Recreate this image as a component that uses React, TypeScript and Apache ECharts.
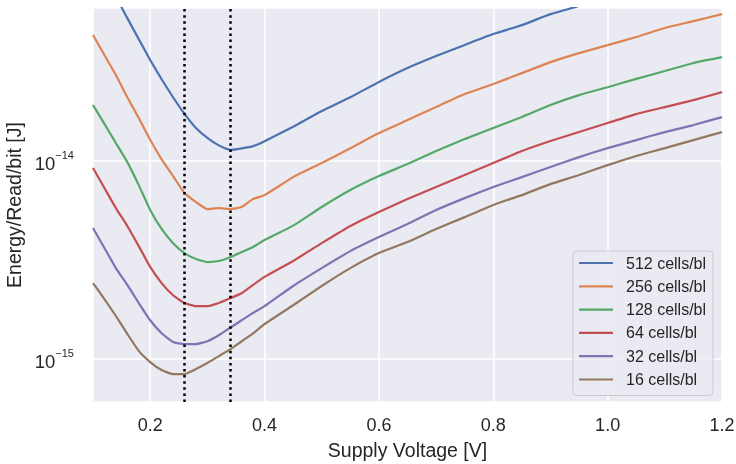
import { useEffect, useRef } from "react";
import * as echarts from "echarts";

// Supply voltage sweep [V]
const voltage = [
  0.1, 0.12, 0.14, 0.16, 0.18, 0.2, 0.22, 0.24, 0.26, 0.28, 0.3, 0.32, 0.34, 0.36, 0.38, 0.4,
  0.45, 0.5, 0.55, 0.6, 0.65, 0.7, 0.75, 0.8, 0.85, 0.9, 0.95, 1.0, 1.05, 1.1, 1.15, 1.2,
];

const seriesNames = [
  "512 cells/bl",
  "256 cells/bl",
  "128 cells/bl",
  "64 cells/bl",
  "32 cells/bl",
  "16 cells/bl",
];

// Energy per read per bit [J]
const e512 = [
  1.19e-13, 9.2e-14, 6.8e-14, 5.27e-14, 4.13e-14, 3.24e-14, 2.59e-14, 2.1e-14, 1.73e-14, 1.47e-14,
  1.31e-14, 1.2e-14, 1.14e-14, 1.16e-14, 1.19e-14, 1.26e-14, 1.49e-14, 1.79e-14, 2.1e-14, 2.51e-14,
  2.95e-14, 3.39e-14, 3.86e-14, 4.38e-14, 4.86e-14, 5.52e-14, 6.07e-14, 6.73e-14, 7.48e-14, 8.3e-14,
  9.1e-14, 1.0e-13,
];
const e256 = [
  4.33e-14, 3.43e-14, 2.72e-14, 2.1e-14, 1.65e-14, 1.28e-14, 1.02e-14, 8.4e-15, 6.89e-15, 6.21e-15,
  5.72e-15, 5.78e-15, 5.72e-15, 5.86e-15, 6.43e-15, 6.73e-15, 8.3e-15, 9.77e-15, 1.16e-14, 1.385e-14,
  1.61e-14, 1.874e-14, 2.18e-14, 2.45e-14, 2.78e-14, 3.16e-14, 3.51e-14, 3.85e-14, 4.23e-14, 4.7e-14,
  5.09e-14, 5.52e-14,
];
const e128 = [
  1.92e-14, 1.54e-14, 1.233e-14, 9.88e-15, 7.56e-15, 5.66e-15, 4.54e-15, 3.85e-15, 3.43e-15, 3.2e-15,
  3.09e-15, 3.13e-15, 3.27e-15, 3.47e-15, 3.68e-15, 3.99e-15, 4.72e-15, 5.86e-15, 7.14e-15, 8.4e-15,
  9.66e-15, 1.123e-14, 1.291e-14, 1.468e-14, 1.668e-14, 1.92e-14, 2.154e-14, 2.36e-14, 2.6e-14,
  2.85e-14, 3.13e-14, 3.35e-14,
];
const e64 = [
  9.22e-15, 7.31e-15, 5.79e-15, 4.7e-15, 3.72e-15, 2.92e-15, 2.42e-15, 2.1e-15, 1.92e-15, 1.85e-15,
  1.85e-15, 1.92e-15, 2.03e-15, 2.15e-15, 2.37e-15, 2.6e-15, 3.13e-15, 3.85e-15, 4.7e-15, 5.53e-15,
  6.43e-15, 7.39e-15, 8.5e-15, 9.77e-15, 1.123e-14, 1.262e-14, 1.401e-14, 1.556e-14, 1.727e-14,
  1.874e-14, 2.03e-14, 2.23e-14,
];
const e32 = [
  4.59e-15, 3.64e-15, 2.88e-15, 2.37e-15, 1.92e-15, 1.57e-15, 1.35e-15, 1.22e-15, 1.19e-15, 1.19e-15,
  1.23e-15, 1.32e-15, 1.44e-15, 1.57e-15, 1.71e-15, 1.85e-15, 2.34e-15, 2.88e-15, 3.51e-15, 4.13e-15,
  4.81e-15, 5.66e-15, 6.5e-15, 7.39e-15, 8.3e-15, 9.33e-15, 1.047e-14, 1.163e-14, 1.276e-14, 1.401e-14,
  1.52e-14, 1.668e-14,
];
const e16 = [
  2.42e-15, 2.01e-15, 1.65e-15, 1.34e-15, 1.1e-15, 9.66e-16, 8.8e-16, 8.4e-16, 8.4e-16, 8.9e-16,
  9.55e-16, 1.035e-15, 1.12e-15, 1.23e-15, 1.35e-15, 1.5e-15, 1.87e-15, 2.34e-15, 2.88e-15, 3.43e-15,
  3.9e-15, 4.54e-15, 5.21e-15, 6.0e-15, 6.73e-15, 7.65e-15, 8.5e-15, 9.54e-15, 1.06e-14, 1.163e-14,
  1.276e-14, 1.401e-14,
];

// Voltages marked with dotted reference lines
const markedVoltages = [0.26, 0.34];

const palette = ["#4C72B0", "#DD8452", "#55A868", "#C44E52", "#8172B3", "#937860"];
const textColor = "#262626";
const fontFamily = "'Liberation Sans', Arial, Helvetica, sans-serif";

export default function App() {
  const ref = useRef<HTMLDivElement>(null);

  useEffect(() => {
    if (!ref.current) return;
    const chart = echarts.init(ref.current, null, { renderer: "svg" });
    const curves = [e512, e256, e128, e64, e32, e16];

    chart.setOption({
      animation: false,
      color: palette,
      textStyle: { fontFamily },
      grid: {
        left: 93,
        right: 14,
        top: 8,
        bottom: 62,
        containLabel: false,
        outerBoundsMode: "none",
        show: true,
        backgroundColor: "#EAEAF2",
        borderWidth: 0,
      },
      legend: {
        data: seriesNames,
        orient: "vertical",
        left: 573,
        top: 251,
        icon: "rect",
        itemWidth: 34,
        itemHeight: 2.2,
        itemGap: 7.3,
        padding: [4, 7, 8, 6],
        backgroundColor: "rgba(234,234,242,0.8)",
        borderColor: "#cccccc",
        borderWidth: 1,
        borderRadius: 4,
        textStyle: {
          fontSize: 16,
          lineHeight: 16,
          color: textColor,
          padding: [0, 0, 0, 8],
        },
      },
      xAxis: {
        type: "value",
        min: 0.1,
        max: 1.2,
        splitNumber: 5,
        axisLine: { show: false },
        axisTick: { show: false },
        splitLine: { show: true, lineStyle: { color: "#ffffff", width: 1.6 } },
        axisLabel: {
          showMinLabel: false,
          fontSize: 18,
          color: textColor,
          margin: 14,
          formatter: (v: number) => v.toFixed(1),
        },
        name: "Supply Voltage [V]",
        nameLocation: "middle",
        nameGap: 38,
        nameTextStyle: { fontSize: 19.5, color: textColor },
      },
      yAxis: {
        type: "log",
        logBase: 10,
        min: 6.07e-16,
        max: 5.93e-14,
        axisLine: { show: false },
        axisTick: { show: false },
        splitLine: { show: true, lineStyle: { color: "#ffffff", width: 1.6 } },
        axisLabel: {
          showMinLabel: false,
          showMaxLabel: false,
          margin: 19,
          formatter: (v: number) => {
            const e = Math.round(Math.log10(v));
            return `{b|10}{s|${e < 0 ? "\u2212" : ""}${Math.abs(e)}}`;
          },
          rich: {
            b: {
              fontSize: 18.5,
              lineHeight: 24,
              verticalAlign: "bottom",
              color: textColor,
              fontFamily,
            },
            s: {
              fontSize: 11,
              lineHeight: 11,
              verticalAlign: "top",
              color: textColor,
              fontFamily,
            },
          },
        },
        name: "Energy/Read/bit [J]",
        nameLocation: "middle",
        nameGap: 66,
        nameTextStyle: { fontSize: 19.5, color: textColor },
      },
      series: curves.map((c, i) => ({
        name: seriesNames[i],
        type: "line",
        data: voltage.map((v, j) => [v, c[j]]),
        symbol: "none",
        showSymbol: false,
        smooth: 0.15,
        lineStyle: { width: 2.2 },
        emphasis: { disabled: true },
        markLine:
          i === curves.length - 1
            ? {
                silent: true,
                symbol: ["none", "none"],
                label: { show: false },
                emphasis: { disabled: true },
                lineStyle: { color: "#000000", width: 2.5, type: [2.5, 3.6] },
                data: markedVoltages.map((v) => ({ xAxis: v })),
              }
            : undefined,
      })),
    });

    return () => chart.dispose();
  }, []);

  return (
    <div
      ref={ref}
      style={{ position: "fixed", left: 0, top: 0, width: 736, height: 464 }}
    />
  );
}
